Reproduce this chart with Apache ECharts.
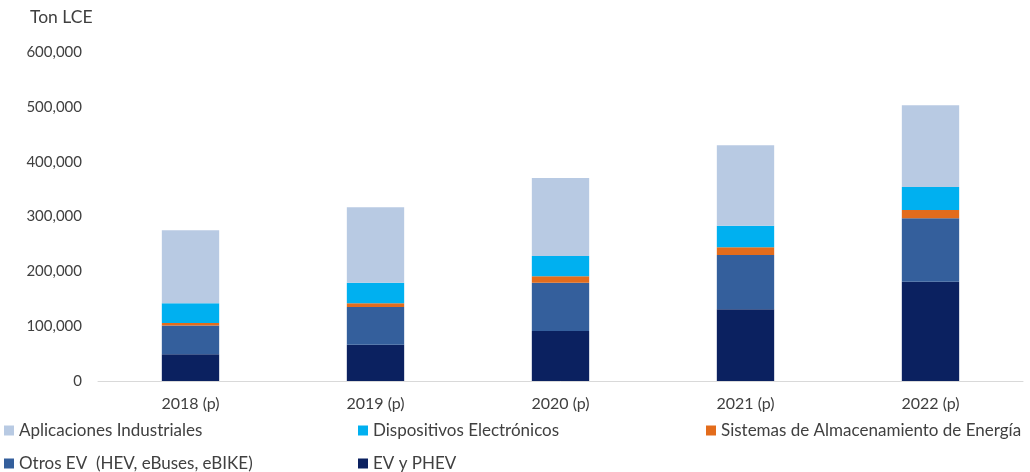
<!DOCTYPE html>
<html>
<head>
<meta charset="utf-8">
<script src="https://cdn.jsdelivr.net/npm/echarts@6/dist/echarts.min.js"></script>
<style>html,body{margin:0;padding:0;background:#fff;}#c{width:1030px;height:472px;}</style>
</head>
<body>
<div id="c"></div>
<script>
const categories = ['2018 (p)', '2019 (p)', '2020 (p)', '2021 (p)', '2022 (p)'];
const evPhev = [49000, 66000, 91000, 131000, 181000];
const otrosEv = [52000, 69000, 88000, 99000, 116000];
const sistemas = [5000, 7000, 12000, 14000, 15000];
const dispositivos = [36000, 37000, 37000, 39000, 42000];
const aplicaciones = [133000, 138000, 142000, 147000, 149000];
const yTicks = [0, 100000, 200000, 300000, 400000, 500000, 600000];

const names = {
  ind: 'Aplicaciones Industriales',
  disp: 'Dispositivos Electrónicos',
  sis: 'Sistemas de Almacenamiento de Energía',
  otros: 'Otros EV  (HEV, eBuses, eBIKE)',
  ev: 'EV y PHEV'
};
const font = 'Lato, "Open Sans", sans-serif';
const txt = '#404040';

const chart = echarts.init(document.getElementById('c'));
function bar(name, data, color) {
  return { name, type: 'bar', stack: 'total', data, barWidth: '31%',
    itemStyle: { color }, emphasis: { disabled: true } };
}
function legend(left, data) {
  return { orient: 'vertical', left, top: 422, padding: 0, height: 60, itemWidth: 10, itemHeight: 10,
    itemGap: 16, icon: 'rect', data,
    textStyle: { fontFamily: font, fontSize: 17, color: txt, padding: [0, 0, 0, 0] } };
}
chart.setOption({
  animation: false,
  grid: { left: 98, right: 7, top: 52, bottom: 91 },
  graphic: [{ type: 'text', left: 30, top: 8, style: { text: 'Ton LCE', font: '17.5px ' + font, fill: txt } }],
  legend: [
    legend(4, [names.ind, names.otros]),
    legend(358, [names.disp, names.ev]),
    legend(706, [names.sis])
  ],
  xAxis: { type: 'category', data: categories,
    axisLine: { lineStyle: { color: '#d9d9d9', width: 1 } }, axisTick: { show: false },
    axisLabel: { fontFamily: font, fontSize: 16, color: txt, margin: 15 } },
  yAxis: { type: 'value', min: yTicks[0], max: yTicks[yTicks.length - 1], interval: 100000,
    splitLine: { show: false }, axisLine: { show: false }, axisTick: { show: false },
    axisLabel: { fontFamily: font, fontSize: 15, color: txt, margin: 16,
      formatter: v => v.toLocaleString('en-US') } },
  series: [
    bar(names.ev, evPhev, '#0b2160'),
    bar(names.otros, otrosEv, '#345f9c'),
    bar(names.sis, sistemas, '#e36c1c'),
    bar(names.disp, dispositivos, '#00b0f0'),
    bar(names.ind, aplicaciones, '#b8cae3')
  ]
});
</script>
</body>
</html>
